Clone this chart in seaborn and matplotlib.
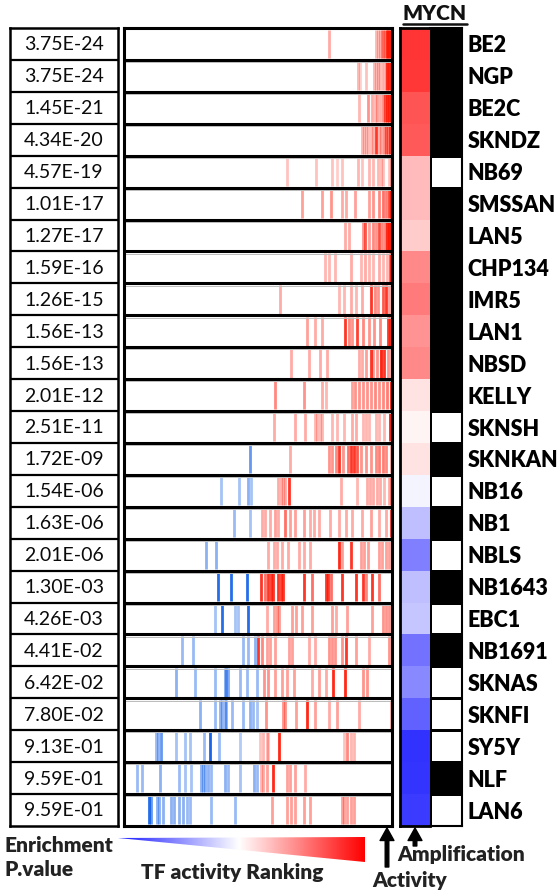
import numpy as np
import pandas as pd
import seaborn as sns
import matplotlib
matplotlib.use("Agg")
import matplotlib.pyplot as plt
from matplotlib.colors import LinearSegmentedColormap, ListedColormap
from matplotlib.patches import Polygon

# ---------------------------------------------------------------- data
cell_lines = ["BE2", "NGP", "BE2C", "SKNDZ", "NB69", "SMSSAN", "LAN5", "CHP134",
              "IMR5", "LAN1", "NBSD", "KELLY", "SKNSH", "SKNKAN", "NB16", "NB1",
              "NBLS", "NB1643", "EBC1", "NB1691", "SKNAS", "SKNFI", "SY5Y", "NLF", "LAN6"]

enrichment_p = [3.75e-24, 3.75e-24, 1.45e-21, 4.34e-20, 4.57e-19, 1.01e-17, 1.27e-17,
                1.59e-16, 1.26e-15, 1.56e-13, 1.56e-13, 2.01e-12, 2.51e-11, 1.72e-09,
                1.54e-06, 1.63e-06, 2.01e-06, 1.30e-03, 4.26e-03, 4.41e-02, 6.42e-02,
                7.80e-02, 9.13e-01, 9.59e-01, 9.59e-01]

# MYCN inferred activity (scaled -1 .. 1)
mycn_activity = [0.95, 0.93, 0.8, 0.78, 0.32, 0.32, 0.24, 0.55, 0.62, 0.5, 0.56, 0.14,
                 0.05, 0.13, -0.05, -0.3, -0.6, -0.3, -0.27, -0.66, -0.55, -0.74,
                 -0.96, -0.95, -0.92]

# MYCN amplification status (1 = amplified)
mycn_amplified = [1, 1, 1, 1, 0, 1, 1, 1, 1, 1, 1, 1, 0, 1, 0, 1, 0, 1, 0, 1, 0, 0, 0, 1, 0]

# rank (percent of the TF activity ranking) of each MYCN target, per cell line
hit_ranks = [
    [76.4, 94.2, 94.8, 95.5, 96.2, 96.8, 97.5, 98.0, 98.6, 99.2, 99.7],
    [87.2, 88.0, 90.2, 93.4, 94.0, 94.8, 95.6, 96.5, 97.6, 98.3, 99.0, 99.6],
    [87.5, 91.2, 92.5, 93.5, 94.5, 95.5, 96.5, 97.5, 98.3, 99.0, 99.7],
    [88.7, 89.5, 90.3, 91.2, 92.0, 93.0, 94.0, 95.0, 96.0, 97.0, 97.8, 98.5, 99.3],
    [61.0, 71.8, 77.7, 79.6, 81.5, 87.2, 88.7, 91.5, 93.0, 94.6, 95.8, 96.5, 99.0, 99.7],
    [66.4, 73.9, 77.4, 81.5, 83.0, 86.1, 91.5, 93.0, 95.2, 96.5, 97.7, 99.0, 99.7],
    [82.5, 84.0, 89.0, 90.0, 91.5, 93.0, 94.2, 95.2, 96.3, 97.4, 98.2, 99.0, 99.7],
    [75.0, 76.5, 78.7, 84.6, 88.5, 90.0, 91.5, 93.0, 95.2, 96.7, 98.0, 99.2, 99.8],
    [58.3, 80.2, 82.0, 84.6, 86.5, 88.7, 92.1, 93.6, 94.9, 96.5, 97.7, 99.0],
    [68.3, 71.4, 73.9, 82.5, 84.0, 85.2, 87.1, 89.0, 91.5, 93.4, 95.5, 98.4, 99.3],
    [62.4, 68.9, 73.3, 75.8, 87.7, 88.8, 90.2, 92.1, 93.0, 94.5, 95.8, 96.0, 97.2, 98.5, 99.5],
    [56.4, 67.0, 73.7, 75.5, 85.2, 86.3, 87.5, 89.0, 90.5, 92.0, 93.5, 95.0, 96.5, 98.0, 99.5],
    [56.1, 63.9, 67.4, 71.2, 72.0, 73.0, 73.9, 77.7, 79.6, 82.0, 85.2, 86.5, 89.0, 90.2,
     91.5, 94.0, 95.2, 97.0, 99.4],
    [47.0, 61.8, 76.4, 77.7, 79.0, 80.2, 81.8, 83.5, 84.8, 85.7, 86.8, 88.4, 90.2, 92.1,
     94.0, 95.2, 96.5, 97.7, 99.7],
    [36.1, 42.9, 46.1, 47.3, 57.6, 58.5, 59.4, 60.2, 61.4, 80.8, 87.1, 90.5, 91.7, 93.0,
     94.3, 95.5, 97.0, 99.0, 99.8],
    [41.0, 47.0, 51.4, 52.6, 54.5, 56.4, 57.6, 60.2, 62.0, 63.7, 67.0, 69.5, 70.8, 72.6,
     77.0, 80.2, 82.7, 85.2, 88.9, 92.1, 95.2, 97.7, 99.7],
    [30.7, 34.2, 53.9, 55.8, 57.0, 58.9, 61.2, 65.2, 67.0, 69.5, 80.2, 81.5, 84.6, 88.5,
     89.6, 91.0, 95.0, 96.2, 97.7, 98.9],
    [35.1, 39.8, 46.0, 51.1, 52.6, 53.9, 54.8, 55.7, 57.6, 58.5, 59.4, 67.0, 70.1, 75.2,
     76.3, 77.2, 81.5, 86.5, 89.0, 90.2, 92.6, 95.2],
    [34.1, 36.6, 41.4, 42.6, 46.4, 53.3, 55.8, 57.0, 57.9, 62.7, 64.0, 66.4, 70.1, 77.7,
     79.0, 83.3, 92.7, 96.5, 97.7, 99.0],
    [21.7, 25.7, 44.5, 46.4, 49.0, 50.1, 51.4, 53.3, 54.5, 56.4, 61.4, 62.7, 69.0, 71.4,
     76.4, 77.7, 78.9, 81.5, 82.7, 86.5, 91.5, 99.0],
    [19.4, 26.6, 34.1, 37.6, 38.2, 38.8, 43.2, 46.0, 49.6, 52.4, 53.9, 56.4, 58.9, 60.8,
     63.3, 70.3, 72.8, 75.2, 78.0, 82.5, 89.0, 90.8],
    [28.4, 34.1, 35.8, 36.5, 37.5, 38.2, 40.4, 44.5, 47.0, 48.3, 49.6, 52.9, 59.5, 60.2,
     64.0, 68.3, 71.4, 76.4, 79.6, 87.7, 99.6],
    [11.9, 12.7, 13.8, 19.4, 22.6, 24.8, 30.0, 32.0, 35.5, 43.2, 50.8, 52.0, 53.3, 53.9,
     57.9, 82.0, 83.3, 84.6, 86.0],
    [5.0, 6.9, 13.5, 20.7, 22.6, 25.1, 28.8, 29.6, 30.4, 31.2, 32.6, 37.6, 38.8, 43.2,
     48.5, 49.5, 51.0, 52.0, 53.3, 55.5, 60.8, 62.0, 63.9, 67.6],
    [9.4, 10.2, 12.4, 13.2, 14.5, 17.5, 18.7, 20.7, 21.9, 23.4, 24.6, 32.6, 41.6, 55.1,
     61.0, 62.2, 63.9, 67.0, 69.5, 81.5, 82.2, 83.3, 84.6, 85.8],
]

# signed target score: negative = repressed (blue), positive = activated (red)
hit_scores = [
    [.35, .3, .3, .35, .4, .45, .6, .85, .9, .9, .6],
    [.3, .2, .25, .3, .3, .35, .3, .35, .5, .85, .9, .7],
    [.3, .45, .35, .3, .4, .35, .5, .75, .9, .9, .85],
    [.3, .3, .3, .3, .3, .35, .85, .35, .4, .5, .7, .6, .85],
    [.25, .25, .25, .2, .25, .3, .25, .3, .3, .3, .3, .25, .25, .4],
    [.4, .4, .45, .35, .35, .4, .4, .45, .5, .6, .55, .8, 1.0],
    [.35, .35, .45, .7, .4, .5, .45, .75, .5, .55, .9, .95, .8],
    [.3, .3, .3, .35, .3, .35, .3, .3, .35, .3, .3, .7, .9],
    [.35, .3, .3, .35, .3, .35, .85, .5, .45, .7, .85, .4],
    [.4, .35, .35, .85, .5, .45, .8, .5, .45, .45, .5, .85, .9],
    [.35, .35, .35, .35, .35, .35, .4, .85, .4, .45, .5, .85, .85, .45, .4],
    [.5, .45, .35, .3, .4, .45, .45, .45, .45, .45, .5, .45, .5, .55, .95],
    [.35, .35, .35, .3, .3, .3, .3, .3, .3, .3, .35, .35, .3, .3, .3, .3, .3, .3, .95],
    [-.6, .35, .45, .45, .5, .85, .45, .6, .85, .85, .7, .45, .45, .45, .5, .55, .55, .5, .4],
    [-.35, -.35, -.45, -.35, .35, .35, .35, .35, .85, .35, .3, .35, .35, .35, .35, .35, .3,
     .35, .5],
    [-.4, -.35, .35, .35, .35, .4, .35, .6, .4, .4, .4, .35, .35, .35, .35, .35, .35, .35,
     .35, .4, .35, .35, .85],
    [-.45, -.45, .35, .35, .35, .35, .35, .35, .35, .35, .9, .4, .85, .4, .4, .4, .4, .4,
     .4, .4],
    [-.85, -.85, -.85, .85, .6, .85, .85, .85, .85, .85, .85, .85, .6, .85, .85, .6, .85,
     .85, .85, .5, .85, .6],
    [-.35, -.85, -.35, -.35, -.85, .35, .4, .45, .4, .4, .4, .4, .4, .4, .35, .4, .4, .45,
     .45, .45],
    [-.4, -.4, -.4, -.4, -.45, .85, .5, .4, .4, .4, .4, .4, .35, .35, .45, .45, .45, .45,
     .85, .4, .35, .45],
    [-.45, -.4, -.4, -.5, -.5, -.5, -.4, -.4, -.4, .45, .45, .4, .4, .4, .4, .35, .4, .35,
     .9, .9, .45, .45],
    [-.45, -.4, -.45, -.45, -.45, -.45, -.4, -.4, -.45, -.4, -.35, .45, .45, .45, .4, .9,
     .4, .35, .4, .35, .35],
    [-.4, -.45, -.6, -.35, -.35, -.35, -.4, -.9, -.4, -.3, .25, .3, .3, .25, .9, .25, .5,
     .3, .3],
    [-.4, -.4, -.45, -.4, -.35, -.35, -.45, -.45, -.45, -.45, -.4, -.45, -.4, -.35, -.45,
     -.4, .3, .35, .4, .9, .4, .4, .4, .35],
    [-.85, -.6, -.45, -.45, -.45, -.45, -.45, -.45, -.45, -.4, -.4, -.4, -.4, .4, .4, .4,
     .4, .4, .4, .4, .4, .4, .4, .4],
]

# ---------------------------------------------------------------- style
sns.set_theme(style="white")
plt.rcParams["font.family"] = ["Lato", "DejaVu Sans"]

W, H = 558, 890
fig = plt.figure(figsize=(W / 100, H / 100), dpi=100)


def box(x0, y0, x1, y1):
    """Axes rectangle from pixel edges (top-left origin)."""
    return [x0 / W, 1 - y1 / H, (x1 - x0) / W, (y1 - y0) / H]


n = len(cell_lines)
TOP, BOTTOM = 28, 826

# ---------------------------------------------------------------- p-value column
ax_p = fig.add_axes(box(10, TOP, 118, BOTTOM))
ax_p.set_xlim(0, 1)
ax_p.set_ylim(n, 0)
ax_p.hlines(np.arange(1, n), 0, 1, color="black", lw=1.6)
for i, p in enumerate(enrichment_p):
    ax_p.text(0.5, i + 0.53, f"{p:.2E}", ha="center", va="center", fontsize=14,
              color="#0a0a0a")
ax_p.set_xticks([])
ax_p.set_yticks([])
for s in ax_p.spines.values():
    s.set_color("black")
    s.set_linewidth(1.8)

# ---------------------------------------------------------------- barcode panel
ax_b = fig.add_axes(box(124, TOP, 392, BOTTOM))
ax_b.set_xlim(0, 100)
ax_b.set_ylim(n, 0)
red = np.array([1.0, 0.07, 0.0])
blue = np.array([0.0, 0.33, 0.9])
for i, (ranks, scores) in enumerate(zip(hit_ranks, hit_scores)):
    for r, s in zip(ranks, scores):
        base = red if s > 0 else blue
        ax_b.vlines(r, i + 0.05, i + 0.95, color=base, alpha=min(abs(s), 1.0),
                    lw=2.0)
ax_b.hlines(np.arange(1, n), 0, 100, color="black", lw=2.2)
ax_b.hlines(np.arange(1, n) + 0.07, 0, 100, color="#bbbbbb", lw=0.7)
ax_b.set_xticks([])
ax_b.set_yticks([])
for s in ax_b.spines.values():
    s.set_color("black")
    s.set_linewidth(2.2)

# ---------------------------------------------------------------- MYCN activity
act_cmap = LinearSegmentedColormap.from_list(
    "act", ["#2a2aff", "#ffffff", "#ff2a2a"])
ax_a = fig.add_axes(box(400, TOP, 430, BOTTOM))
sns.heatmap(pd.DataFrame({"Activity": mycn_activity}, index=cell_lines), ax=ax_a,
            cmap=act_cmap, vmin=-1, vmax=1, cbar=False, xticklabels=False,
            yticklabels=False)
for s in ["left", "top", "bottom"]:
    ax_a.spines[s].set_visible(True)
    ax_a.spines[s].set_color("black")
    ax_a.spines[s].set_linewidth(2.0)

# ---------------------------------------------------------------- MYCN amplification
ax_m = fig.add_axes(box(430, TOP, 462, BOTTOM))
sns.heatmap(pd.DataFrame({"Amplification": mycn_amplified}, index=cell_lines), ax=ax_m,
            cmap=ListedColormap(["white", "black"]), vmin=0, vmax=1, cbar=False,
            linewidths=1.0, linecolor="black", xticklabels=False, yticklabels=True)
for s in ["right", "top", "bottom"]:
    ax_m.spines[s].set_visible(True)
    ax_m.spines[s].set_color("black")
    ax_m.spines[s].set_linewidth(1.5)
ax_m.yaxis.tick_right()
ax_m.tick_params(axis="y", length=0, pad=4, labelsize=15.5)
for lab in ax_m.get_yticklabels():
    lab.set_rotation(0)
    lab.set_fontweight("heavy")
    lab.set_color("black")
ax_m.set_ylabel("")

# ---------------------------------------------------------------- annotations
ov = fig.add_axes([0, 0, 1, 1], zorder=10)
ov.set_xlim(0, W)
ov.set_ylim(H, 0)
ov.axis("off")
ov.patch.set_alpha(0)

ov.text(435, 14, "MYCN", ha="center", va="center", fontsize=15, fontweight="heavy",
        color="#111111")
ov.plot([403, 467], [24, 24], color="#111111", lw=1.8)

# ranking wedge
grad_cmap = LinearSegmentedColormap.from_list(
    "rank", [(0, "#1a1aff"), (0.49, "#ffffff"), (1, "#ff0000")])
grad = np.linspace(0, 1, 256)[None, :]
wedge = Polygon([(118, 838), (365, 837), (365, 862)], closed=True,
                transform=ov.transData, facecolor="none", edgecolor="none")
ov.add_patch(wedge)
im = ov.imshow(grad, cmap=grad_cmap, extent=[118, 365, 862, 836], aspect="auto",
               interpolation="bilinear")
im.set_clip_path(wedge)
ov.set_xlim(0, W)
ov.set_ylim(H, 0)

ov.text(5, 846, "Enrichment", ha="left", va="center", fontsize=15, fontweight="heavy",
        color="#222222")
ov.text(5, 869, "P.value", ha="left", va="center", fontsize=15, fontweight="heavy",
        color="#222222")
ov.text(232, 873, "TF activity Ranking", ha="center", va="center", fontsize=15,
        fontweight="heavy", color="#222222")

arrow_style = dict(facecolor="black", edgecolor="black", width=2.6, headwidth=10,
                   headlength=9, shrink=0)
ov.annotate("", xy=(387, 828), xytext=(387, 867), arrowprops=arrow_style)
ov.annotate("", xy=(415, 828), xytext=(415, 846), arrowprops=arrow_style)
ov.text(397, 855, "Amplification", ha="left", va="center", fontsize=15,
        fontweight="heavy", color="#222222")
ov.text(372, 880, "Activity", ha="left", va="center", fontsize=15, fontweight="heavy",
        color="#222222")

fig.savefig("out.png", dpi=100)
